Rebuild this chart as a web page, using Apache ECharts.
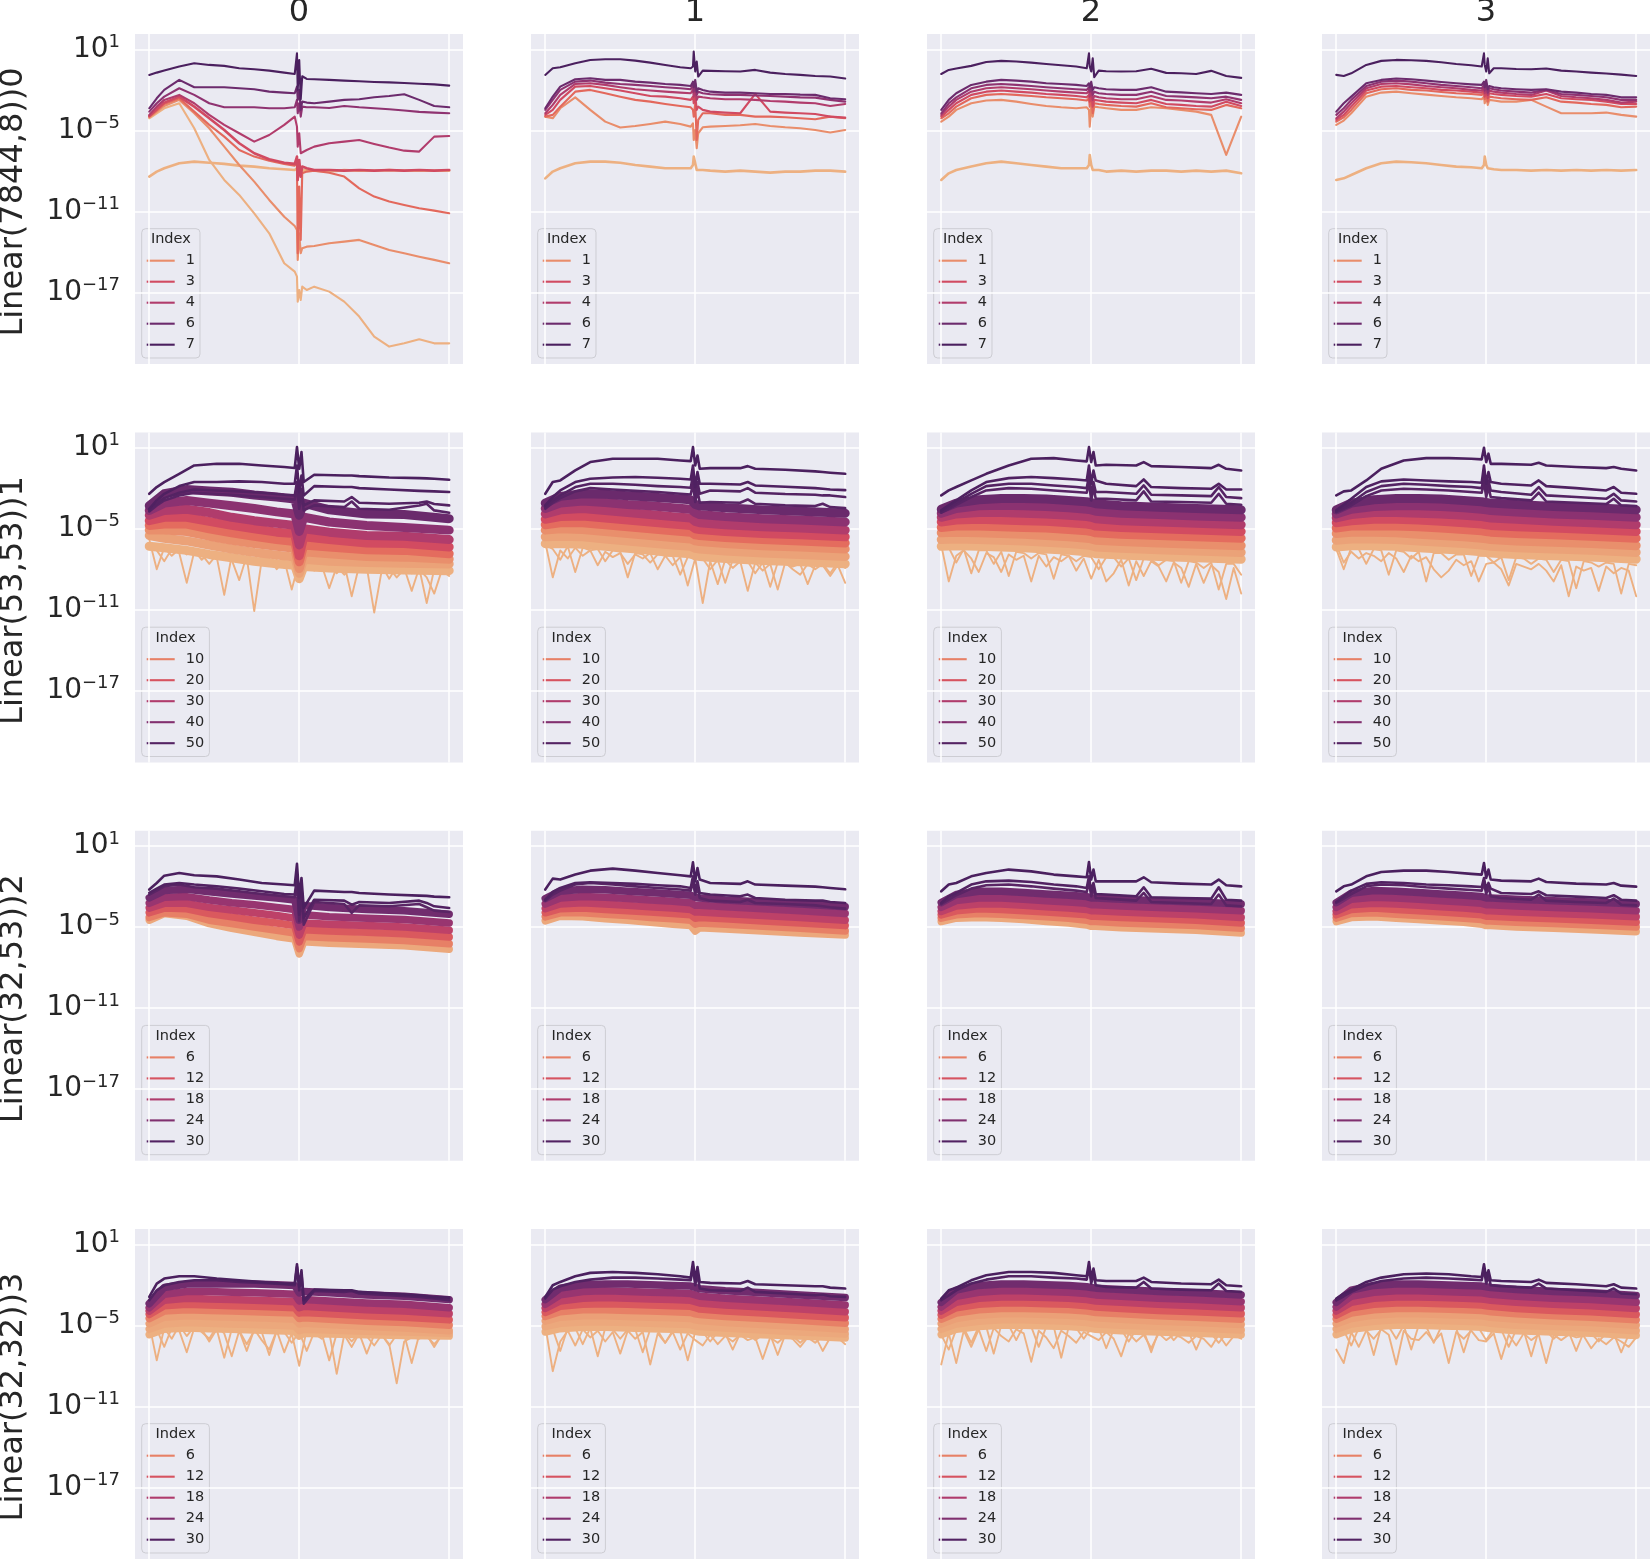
<!DOCTYPE html>
<html><head><meta charset="utf-8">
<script src="https://cdn.jsdelivr.net/npm/echarts@6/dist/echarts.min.js"></script>
<style>html,body{margin:0;padding:0;background:#fff}#c{width:1651px;height:1560px}</style>
</head><body><div id="c"></div>
<script>
// ---------- labels / ticks ----------
const colTitles = ['0','1','2','3'];
const rowLabels = ['Linear(7844,8))0','Linear(53,53))1','Linear(32,53))2','Linear(32,32))3'];
const hueMax = [7,52,31,31];
const legendTicks = [[1,3,4,6,7],[10,20,30,40,50],[6,12,18,24,30],[6,12,18,24,30]];
const yTickExp = [1,-5,-11,-17];        // log10 of the y tick values
const xGridVals = [0,1,2];

// ---------- x sampling (all y values below are log10 of the plotted quantity) ----------
const xsRow0 = [0,0.05,0.1,0.2,0.3,0.4,0.5,0.6,0.7,0.8,0.9,0.97,0.985,0.99,1.0,1.01,1.02,1.05,1.1,1.2,1.3,1.4,1.5,1.6,1.7,1.8,1.9,2.0];
const xsTop = [0,0.05,0.1,0.2,0.3,0.45,0.6,0.75,0.9,0.97,0.985,1.0,1.015,1.03,1.1,1.3,1.35,1.4,1.6,1.8,1.85,1.9,2.0];
const xsBand = [0,0.1,0.25,0.4,0.55,0.7,0.85,0.97,1.0,1.03,1.2,1.45,1.7,2.0];
const xsNoise = [0,0.05,0.1,0.15,0.2,0.25,0.3,0.35,0.4,0.45,0.5,0.55,0.6,0.65,0.7,0.75,0.8,0.85,0.9,0.95,1,1.05,1.1,1.15,1.2,1.25,1.3,1.35,1.4,1.45,1.5,1.55,1.6,1.65,1.7,1.75,1.8,1.85,1.9,1.95,2];

// ---------- row 0 : Linear(7844,8) ----------
const r0c0Hue = [0,0,1,2,3,4,5,6,7];
const r0c0 = [
 [-8.43,-8.06,-7.81,-7.44,-7.32,-7.4,-7.49,-7.62,-7.69,-7.81,-7.89,-7.94,-7.81,-8.19,-7.69,-8.31,-7.99,-7.95,-8.0,-8.05,-7.95,-8.0,-8.0,-7.95,-8.0,-8.0,-8.0,-8.0],
 [-4.11,-3.74,-3.37,-3.0,-4.85,-7.2,-8.68,-9.79,-11.15,-12.63,-14.85,-15.47,-15.84,-17.69,-16.83,-17.57,-16.58,-16.83,-16.58,-16.95,-17.69,-18.8,-20.28,-21.02,-20.78,-20.48,-20.78,-20.78],
 [-4.04,-3.62,-3.2,-2.75,-3.74,-4.85,-6.21,-7.57,-8.8,-10.16,-11.4,-12.09,-12.38,-14.6,-12.63,-14.11,-13.74,-13.62,-13.57,-13.37,-13.25,-13.12,-13.49,-13.86,-14.11,-14.36,-14.6,-14.85],
 [-3.99,-3.54,-3.05,-2.63,-3.62,-4.6,-5.47,-6.46,-6.95,-7.25,-7.49,-7.62,-7.44,-14.11,-9.17,-13.12,-8.19,-8.06,-7.99,-8.14,-8.43,-9.3,-9.91,-10.28,-10.53,-10.78,-10.95,-11.15],
 [-3.94,-3.44,-2.95,-2.51,-3.25,-4.11,-4.98,-5.96,-6.7,-7.15,-7.4,-7.49,-6.95,-8.68,-7.2,-8.43,-7.69,-7.81,-7.94,-7.94,-7.99,-7.94,-7.99,-7.94,-7.99,-7.94,-7.99,-7.94],
 [-3.86,-3.25,-2.75,-2.38,-3.0,-3.86,-4.6,-5.22,-5.84,-5.35,-4.6,-3.99,-4.73,-6.21,-5.22,-6.7,-6.58,-6.46,-6.21,-5.96,-5.84,-5.72,-6.01,-6.28,-6.51,-6.58,-5.47,-5.42],
 [-3.62,-3.0,-2.51,-1.89,-2.38,-3.0,-3.3,-3.3,-3.3,-3.37,-3.37,-3.3,-2.75,-3.74,-3.0,-3.99,-3.25,-3.3,-3.3,-3.35,-3.2,-3.3,-3.37,-3.44,-3.54,-3.64,-3.69,-3.74],
 [-3.37,-2.63,-2.01,-1.27,-1.81,-1.81,-1.81,-1.89,-1.96,-2.14,-2.21,-2.26,-1.77,-2.75,-2.01,-3.49,-2.88,-2.95,-3.0,-2.88,-2.75,-2.7,-2.56,-2.46,-2.33,-2.75,-3.2,-3.3],
 [-0.9,-0.73,-0.58,-0.28,-0.04,-0.16,-0.23,-0.41,-0.48,-0.58,-0.73,-0.83,0.7,-2.0,0.2,-2.7,-1.0,-1.2,-1.22,-1.27,-1.32,-1.37,-1.42,-1.45,-1.5,-1.55,-1.6,-1.69]
];
const r0Hue = [0,1,2,3,4,5,6,7];
const r0c1 = [
 [-8.56,-8.06,-7.81,-7.44,-7.32,-7.32,-7.4,-7.57,-7.69,-7.81,-7.81,-7.81,-7.57,-6.95,-7.44,-7.94,-7.81,-7.94,-7.99,-8.06,-7.99,-8.06,-8.14,-8.06,-8.06,-7.99,-7.99,-8.06],
 [-3.99,-4.11,-3.37,-2.56,-3.49,-4.36,-4.8,-4.68,-4.53,-4.36,-4.53,-4.73,-4.48,-5.72,-4.98,-6.33,-5.22,-4.78,-4.73,-4.68,-4.63,-4.53,-4.68,-4.78,-4.85,-4.98,-5.17,-4.98],
 [-3.99,-3.86,-3.25,-2.14,-2.01,-2.26,-2.51,-2.75,-2.88,-3.05,-3.2,-3.3,-3.49,-3.99,-3.0,-5.72,-4.23,-3.74,-3.74,-3.86,-3.86,-3.99,-3.99,-4.04,-4.11,-4.18,-3.99,-4.11],
 [-3.86,-3.49,-2.75,-1.77,-1.72,-1.89,-2.06,-2.26,-2.46,-2.51,-2.63,-2.75,-2.51,-3.0,-2.38,-3.49,-3.25,-3.49,-3.62,-3.69,-3.74,-2.3,-3.62,-3.69,-3.74,-3.79,-3.99,-4.06],
 [-3.74,-3.12,-2.38,-1.57,-1.52,-1.64,-1.81,-1.96,-2.06,-2.14,-2.21,-2.26,-2.01,-2.51,-1.89,-2.75,-2.51,-2.56,-2.63,-2.7,-2.7,-2.75,-2.83,-2.88,-2.95,-3.0,-3.2,-3.05],
 [-3.49,-2.75,-2.01,-1.4,-1.32,-1.47,-1.57,-1.64,-1.72,-1.81,-1.89,-1.96,-1.64,-2.14,-1.52,-2.38,-2.14,-2.26,-2.33,-2.38,-2.38,-2.43,-2.46,-2.51,-2.56,-2.58,-2.75,-2.88],
 [-3.37,-2.51,-1.77,-1.22,-1.15,-1.27,-1.27,-1.4,-1.47,-1.57,-1.64,-1.72,-1.4,-1.81,-1.27,-2.14,-1.89,-2.01,-2.14,-2.21,-2.21,-2.26,-2.31,-2.31,-2.36,-2.38,-2.63,-2.7],
 [-0.9,-0.41,-0.33,-0.04,0.21,0.26,0.26,0.16,0.01,-0.16,-0.33,-0.41,-0.28,0.83,-0.65,0.09,-1.02,-0.58,-0.6,-0.63,-0.65,-0.53,-0.73,-0.83,-0.9,-0.98,-1.02,-1.17]
];
const r0c2 = [
 [-8.68,-8.19,-7.94,-7.69,-7.44,-7.32,-7.44,-7.57,-7.69,-7.81,-7.81,-7.81,-7.57,-6.83,-7.57,-7.94,-7.89,-7.94,-8.06,-7.99,-8.06,-7.99,-7.99,-8.06,-7.99,-8.06,-7.99,-8.19],
 [-4.36,-3.99,-3.49,-3.0,-2.8,-2.75,-2.88,-3.05,-3.2,-3.3,-3.37,-3.3,-3.49,-4.73,-3.25,-3.99,-3.25,-3.3,-3.37,-3.49,-3.49,-3.3,-3.37,-3.49,-3.62,-3.86,-6.83,-3.99],
 [-4.11,-3.74,-3.25,-2.63,-2.38,-2.31,-2.38,-2.46,-2.56,-2.63,-2.7,-2.8,-2.63,-3.25,-2.51,-3.74,-3.0,-3.05,-3.12,-3.2,-3.25,-3.0,-3.3,-3.37,-3.44,-3.49,-3.12,-3.37],
 [-3.99,-3.49,-3.0,-2.38,-2.14,-2.06,-2.14,-2.21,-2.31,-2.38,-2.46,-2.56,-2.38,-2.88,-2.26,-3.25,-2.75,-2.8,-2.88,-2.95,-3.0,-2.75,-3.05,-3.12,-3.2,-3.25,-2.88,-3.2],
 [-3.86,-3.25,-2.75,-2.14,-1.89,-1.81,-1.89,-1.96,-2.06,-2.14,-2.21,-2.26,-2.06,-2.51,-1.96,-2.75,-2.46,-2.56,-2.63,-2.7,-2.7,-2.46,-2.75,-2.8,-2.88,-2.95,-2.7,-3.0],
 [-3.74,-3.0,-2.56,-1.89,-1.64,-1.57,-1.64,-1.72,-1.81,-1.89,-1.96,-2.01,-1.81,-2.14,-1.72,-2.38,-2.14,-2.26,-2.31,-2.38,-2.38,-2.14,-2.46,-2.51,-2.56,-2.63,-2.51,-2.75],
 [-3.49,-2.75,-2.26,-1.64,-1.4,-1.27,-1.32,-1.4,-1.52,-1.57,-1.64,-1.72,-1.52,-1.81,-1.4,-2.01,-1.81,-1.89,-1.96,-2.01,-2.01,-1.81,-2.14,-2.19,-2.26,-2.31,-2.21,-2.38],
 [-0.83,-0.53,-0.43,-0.23,0.06,0.14,0.09,0.01,-0.09,-0.19,-0.28,-0.41,0.7,-0.28,-0.65,0.33,-1.07,-0.58,-0.63,-0.65,-0.63,-0.45,-0.75,-0.78,-0.83,-0.6,-0.98,-1.12]
];
const r0c3 = [
 [-8.68,-8.56,-8.31,-7.81,-7.44,-7.32,-7.37,-7.44,-7.57,-7.69,-7.74,-7.81,-7.57,-6.95,-7.57,-7.81,-7.81,-7.89,-7.94,-7.94,-7.99,-7.94,-7.99,-7.94,-7.99,-7.94,-7.99,-7.94],
 [-4.6,-4.28,-3.74,-2.51,-2.21,-2.14,-2.26,-2.36,-2.46,-2.56,-2.63,-2.7,-2.51,-3.0,-2.46,-3.12,-2.75,-2.8,-2.88,-2.88,-2.75,-3.25,-3.74,-3.74,-3.74,-3.69,-3.86,-3.99],
 [-4.36,-4.04,-3.49,-2.26,-1.96,-1.89,-2.01,-2.06,-2.16,-2.26,-2.31,-2.38,-2.21,-2.7,-2.06,-2.88,-2.51,-2.56,-2.63,-2.7,-2.75,-2.56,-2.88,-2.95,-3.05,-3.12,-3.3,-3.25],
 [-4.23,-3.86,-3.25,-2.06,-1.77,-1.72,-1.81,-1.89,-2.01,-2.06,-2.14,-2.21,-2.01,-2.51,-1.89,-2.63,-2.26,-2.31,-2.38,-2.46,-2.51,-2.31,-2.63,-2.7,-2.75,-2.88,-3.05,-3.05],
 [-4.11,-3.62,-3.0,-1.89,-1.57,-1.52,-1.6,-1.72,-1.81,-1.89,-2.01,-2.06,-1.81,-2.26,-1.72,-2.38,-2.06,-2.14,-2.21,-2.31,-2.38,-2.06,-2.46,-2.56,-2.63,-2.75,-2.95,-2.88],
 [-3.86,-3.37,-2.75,-1.72,-1.4,-1.32,-1.4,-1.52,-1.64,-1.72,-1.81,-1.89,-1.64,-2.06,-1.52,-2.21,-1.89,-1.96,-2.06,-2.14,-2.21,-2.01,-2.31,-2.38,-2.46,-2.56,-2.75,-2.75],
 [-3.62,-3.0,-2.51,-1.52,-1.27,-1.17,-1.22,-1.32,-1.42,-1.52,-1.6,-1.64,-1.4,-1.81,-1.27,-1.96,-1.72,-1.81,-1.89,-1.96,-2.01,-1.96,-2.14,-2.21,-2.31,-2.38,-2.56,-2.56],
 [-0.9,-0.98,-0.78,-0.16,0.14,0.21,0.19,0.14,0.04,-0.09,-0.19,-0.28,0.7,-0.16,-0.65,0.33,-0.78,-0.41,-0.41,-0.46,-0.48,-0.43,-0.58,-0.65,-0.73,-0.8,-0.88,-0.98]
];

// ---------- row 1 : Linear(53,53) ----------
const r1BandHue = [0,3,7,14,22,30,38,45];
const r1TopHue = [49,50,51,52];
const r1c0Noise = [-5.8,-8.0,-6.4,-7.0,-6.5,-6.9,-6.6,-7.3,-6.8,-7.1,-9.9,-7.0,-7.4,-7.1,-11.1,-7.3,-7.7,-7.3,-7.9,-7.5,-8.7,-7.6,-8.1,-7.7,-9.4,-7.8,-8.4,-7.9,-8.2,-7.8,-11.2,-8.1,-7.9,-8.6,-8.0,-8.3,-8.0,-8.6,-9.8,-8.1,-8.5];
const r1c0Noise2 = [-6.3,-6.6,-7.4,-6.5,-6.8,-9.0,-6.7,-6.9,-7.6,-6.9,-7.0,-7.3,-8.8,-7.0,-7.4,-7.1,-7.2,-8.0,-7.3,-9.5,-7.4,-7.5,-7.9,-7.5,-7.6,-8.3,-7.6,-10.0,-7.7,-7.8,-8.2,-7.7,-8.7,-7.8,-7.9,-9.6,-7.9,-10.5,-8.0,-8.3,-8.0];
const r1c0Band = [
 [-6.3,-6.4,-6.6,-6.9,-7.15,-7.4,-7.6,-7.7,-8.7,-7.8,-7.9,-8.0,-8.05,-8.1],
 [-5.5,-5.7,-5.9,-6.2,-6.5,-6.75,-6.95,-7.1,-8.3,-7.25,-7.4,-7.5,-7.55,-7.6],
 [-5.1,-5.1,-5.2,-5.55,-5.85,-6.1,-6.3,-6.45,-7.95,-6.7,-6.85,-7.05,-7.1,-7.25],
 [-4.75,-4.65,-4.65,-5.0,-5.3,-5.55,-5.8,-5.95,-7.45,-6.2,-6.35,-6.55,-6.6,-6.85],
 [-4.4,-4.15,-4.15,-4.45,-4.75,-5.0,-5.25,-5.35,-7.0,-5.6,-5.8,-6.05,-6.1,-6.35],
 [-4.0,-3.65,-3.55,-3.8,-4.15,-4.4,-4.6,-4.75,-6.2,-5.0,-5.25,-5.5,-5.55,-5.8],
 [-3.65,-3.1,-2.9,-3.1,-3.3,-3.5,-3.75,-3.9,-5.2,-4.15,-4.5,-4.75,-4.9,-5.1],
 [-3.3,-2.4,-2.1,-2.2,-2.3,-2.5,-2.65,-2.8,-4.0,-3.1,-3.6,-3.9,-3.95,-4.25]
];
const r1c0Top = [
 [-3.72,-3.27,-2.9,-2.53,-2.33,-2.43,-2.53,-2.65,-2.78,-2.83,-1.91,-3.52,-2.53,-3.64,-3.27,-3.4,-2.98,-3.52,-3.59,-3.27,-3.15,-3.64,-3.81],
 [-3.64,-3.15,-2.73,-2.33,-2.09,-2.16,-2.23,-2.33,-2.48,-2.53,-1.54,-3.02,-2.04,-3.27,-2.9,-2.98,-2.65,-3.07,-3.15,-3.07,-2.98,-3.17,-3.27],
 [-3.52,-2.9,-2.41,-1.84,-1.54,-1.54,-1.49,-1.54,-1.67,-1.67,-0.31,-2.28,-1.05,-2.53,-1.84,-1.91,-1.91,-1.99,-2.09,-2.19,-2.21,-2.23,-2.28],
 [-2.41,-1.91,-1.54,-0.93,-0.31,-0.19,-0.19,-0.31,-0.43,-0.5,1.05,-0.56,0.68,-1.54,-1.0,-1.05,-1.05,-1.1,-1.2,-1.25,-1.27,-1.3,-1.37]
];
const r1c1Noise = [-6.0,-8.6,-6.6,-7.2,-6.4,-7.0,-6.6,-7.7,-6.7,-7.1,-6.8,-7.6,-6.9,-7.2,-6.8,-8.0,-7.0,-7.7,-7.1,-9.2,-7.2,-10.5,-7.4,-9.1,-7.3,-7.9,-7.4,-9.6,-7.5,-8.1,-7.6,-9.5,-7.5,-8.0,-8.4,-7.6,-8.0,-7.6,-8.3,-7.5,-7.9];
const r1c1Noise2 = [-6.2,-6.5,-7.3,-6.3,-8.2,-6.4,-6.6,-6.5,-7.4,-6.6,-6.7,-8.6,-6.8,-6.9,-7.5,-6.9,-7.0,-7.0,-8.4,-7.1,-7.2,-7.2,-8.0,-7.3,-9.0,-7.3,-7.4,-7.4,-8.3,-7.5,-9.3,-7.5,-7.6,-7.8,-7.6,-9.1,-7.7,-7.7,-8.5,-7.7,-9.0];
const r1c1Band = [
 [-6.1,-6.1,-6.15,-6.3,-6.45,-6.6,-6.75,-6.85,-7.0,-7.05,-7.2,-7.35,-7.45,-7.6],
 [-5.6,-5.55,-5.6,-5.75,-5.9,-6.05,-6.2,-6.3,-6.45,-6.5,-6.65,-6.8,-6.9,-7.05],
 [-5.1,-5.0,-5.05,-5.2,-5.35,-5.5,-5.65,-5.75,-5.9,-5.95,-6.1,-6.25,-6.35,-6.5],
 [-4.7,-4.55,-4.55,-4.7,-4.85,-5.0,-5.15,-5.25,-5.45,-5.5,-5.65,-5.8,-5.9,-6.05],
 [-4.3,-4.1,-4.05,-4.2,-4.35,-4.5,-4.65,-4.75,-5.0,-5.05,-5.2,-5.35,-5.45,-5.6],
 [-3.9,-3.6,-3.5,-3.65,-3.8,-3.95,-4.1,-4.2,-4.45,-4.55,-4.7,-4.85,-4.95,-5.1],
 [-3.5,-3.1,-2.95,-3.05,-3.2,-3.3,-3.45,-3.55,-3.8,-3.95,-4.1,-4.25,-4.35,-4.5],
 [-3.1,-2.6,-2.4,-2.45,-2.55,-2.65,-2.75,-2.85,-3.2,-3.3,-3.45,-3.6,-3.7,-3.85]
];
const r1c1Top = [
 [-3.52,-3.07,-2.73,-2.23,-1.99,-2.09,-2.19,-2.28,-2.41,-2.46,-1.67,-3.02,-2.16,-3.07,-3.02,-3.07,-2.83,-3.15,-3.27,-3.32,-3.15,-3.4,-3.47],
 [-3.4,-2.9,-2.53,-1.91,-1.67,-1.67,-1.74,-1.84,-1.91,-1.96,-1.05,-2.53,-1.54,-2.41,-2.16,-2.23,-1.99,-2.33,-2.43,-2.48,-2.53,-2.53,-2.65],
 [-3.27,-2.65,-2.16,-1.54,-1.3,-1.2,-1.17,-1.22,-1.3,-1.35,-0.31,-1.91,-0.8,-1.67,-1.67,-1.72,-1.54,-1.79,-1.89,-1.99,-2.04,-2.09,-2.14],
 [-2.41,-1.54,-1.42,-0.68,-0.06,0.19,0.19,0.19,0.06,0.01,1.05,-0.31,0.43,-0.56,-0.51,-0.51,-0.36,-0.56,-0.63,-0.75,-0.8,-0.85,-0.93]
];
const r1c2Noise = [-6.2,-8.9,-7.0,-6.6,-7.2,-8.2,-6.8,-7.1,-8.2,-6.9,-7.3,-7.0,-8.9,-7.0,-7.8,-7.1,-7.4,-7.0,-8.1,-7.2,-8.7,-7.3,-8.9,-8.3,-7.3,-9.2,-7.4,-8.5,-7.4,-7.8,-8.9,-7.5,-7.9,-9.3,-7.6,-9.0,-7.7,-8.2,-10.2,-7.9,-9.8];
const r1c2Noise2 = [-6.5,-6.4,-7.5,-6.5,-8.3,-6.6,-6.6,-7.6,-6.7,-8.5,-6.7,-6.8,-7.2,-6.8,-6.9,-8.7,-6.9,-7.0,-7.4,-7.0,-7.1,-8.0,-7.1,-7.1,-7.8,-7.2,-8.8,-7.2,-7.3,-7.7,-7.3,-7.4,-9.0,-7.4,-7.5,-7.9,-7.5,-9.5,-7.6,-7.6,-8.4];
const r1c2Band = [
 [-6.3,-6.25,-6.3,-6.35,-6.4,-6.5,-6.6,-6.7,-6.75,-6.85,-6.95,-7.05,-7.15,-7.25],
 [-5.8,-5.75,-5.8,-5.85,-5.9,-6.0,-6.1,-6.2,-6.25,-6.35,-6.45,-6.55,-6.65,-6.75],
 [-5.3,-5.25,-5.3,-5.35,-5.4,-5.5,-5.6,-5.7,-5.75,-5.85,-5.95,-6.05,-6.15,-6.25],
 [-4.9,-4.8,-4.8,-4.85,-4.9,-4.95,-5.05,-5.15,-5.2,-5.3,-5.4,-5.5,-5.6,-5.7],
 [-4.5,-4.35,-4.3,-4.35,-4.4,-4.45,-4.55,-4.65,-4.7,-4.8,-4.9,-5.0,-5.1,-5.2],
 [-4.15,-3.9,-3.8,-3.8,-3.85,-3.9,-4.0,-4.1,-4.15,-4.25,-4.4,-4.5,-4.6,-4.7],
 [-3.85,-3.5,-3.3,-3.25,-3.3,-3.35,-3.45,-3.55,-3.6,-3.7,-3.85,-3.95,-4.05,-4.15],
 [-3.55,-3.1,-2.85,-2.75,-2.75,-2.8,-2.9,-3.0,-3.05,-3.15,-3.3,-3.4,-3.5,-3.6]
];
const r1c2Top = [
 [-3.81,-3.52,-3.22,-2.65,-2.16,-1.99,-2.04,-2.16,-2.28,-2.33,-1.54,-2.9,-1.91,-2.78,-2.78,-2.9,-2.23,-2.98,-3.02,-3.07,-2.41,-3.15,-3.22],
 [-3.77,-3.4,-3.07,-2.41,-1.84,-1.67,-1.67,-1.79,-1.91,-1.99,-1.05,-2.53,-1.54,-2.28,-2.28,-2.41,-1.79,-2.48,-2.53,-2.58,-1.91,-2.65,-2.73],
 [-3.64,-3.27,-2.9,-2.16,-1.54,-1.25,-1.17,-1.25,-1.35,-1.42,-0.31,-1.67,-0.68,-1.42,-1.67,-1.84,-1.35,-1.91,-1.99,-2.04,-1.67,-2.09,-2.09],
 [-2.53,-2.16,-1.91,-1.42,-0.93,-0.31,0.19,0.23,0.06,-0.01,1.05,-0.06,0.68,-0.31,-0.26,-0.31,-0.06,-0.36,-0.43,-0.51,-0.26,-0.56,-0.68]
];
const r1c3Noise = [-6.2,-7.5,-6.7,-7.2,-6.8,-7.0,-7.4,-6.8,-7.2,-8.2,-7.0,-7.4,-7.1,-8.0,-8.6,-8.1,-7.3,-7.7,-7.4,-8.9,-7.6,-7.5,-8.0,-9.2,-7.6,-7.8,-8.0,-7.6,-8.1,-8.9,-7.7,-10.0,-7.8,-8.1,-7.9,-9.6,-7.8,-8.3,-7.9,-8.1,-10.0];
const r1c3Noise2 = [-6.5,-8.0,-6.4,-6.5,-7.6,-6.5,-6.6,-8.4,-6.6,-6.7,-7.2,-6.7,-8.9,-6.8,-6.8,-7.3,-6.9,-6.9,-8.5,-7.0,-7.0,-7.5,-7.1,-8.8,-7.1,-7.2,-7.6,-7.2,-7.3,-8.2,-7.3,-7.4,-9.4,-7.4,-7.5,-7.8,-7.5,-7.6,-9.8,-7.6,-7.7];
const r1c3Band = [
 [-6.35,-6.25,-6.25,-6.3,-6.4,-6.5,-6.6,-6.7,-6.75,-6.8,-6.9,-7.0,-7.1,-7.25],
 [-5.85,-5.75,-5.75,-5.8,-5.9,-6.0,-6.1,-6.2,-6.25,-6.3,-6.4,-6.5,-6.6,-6.75],
 [-5.35,-5.25,-5.25,-5.3,-5.4,-5.5,-5.6,-5.7,-5.75,-5.8,-5.9,-6.0,-6.1,-6.25],
 [-4.95,-4.8,-4.8,-4.8,-4.85,-4.95,-5.05,-5.15,-5.2,-5.25,-5.35,-5.45,-5.55,-5.7],
 [-4.55,-4.4,-4.3,-4.3,-4.35,-4.45,-4.55,-4.65,-4.7,-4.75,-4.85,-4.95,-5.05,-5.2],
 [-4.2,-3.95,-3.8,-3.8,-3.85,-3.9,-4.0,-4.1,-4.15,-4.2,-4.3,-4.45,-4.55,-4.7],
 [-3.9,-3.55,-3.35,-3.3,-3.3,-3.35,-3.45,-3.55,-3.6,-3.65,-3.75,-3.9,-4.0,-4.15],
 [-3.6,-3.1,-2.85,-2.75,-2.75,-2.8,-2.9,-3.0,-3.05,-3.1,-3.2,-3.35,-3.45,-3.6]
];
const r1c3Top = [
 [-3.77,-3.52,-3.27,-2.58,-2.16,-2.04,-2.09,-2.16,-2.28,-2.33,-1.54,-2.65,-1.91,-2.65,-2.73,-2.9,-2.33,-2.98,-3.07,-3.17,-2.78,-3.27,-3.32],
 [-3.72,-3.4,-3.07,-2.28,-1.84,-1.67,-1.74,-1.84,-1.91,-1.99,-1.05,-2.16,-1.42,-2.16,-2.28,-2.48,-1.91,-2.53,-2.65,-2.78,-2.41,-2.9,-2.98],
 [-3.64,-3.22,-2.78,-1.91,-1.49,-1.35,-1.42,-1.49,-1.54,-1.59,-0.31,-1.67,-0.8,-1.54,-1.67,-1.79,-1.42,-1.84,-1.99,-2.16,-1.91,-2.33,-2.41],
 [-2.53,-2.23,-2.16,-1.42,-0.56,0.06,0.23,0.23,0.19,0.14,1.0,-0.06,0.56,-0.19,-0.19,-0.26,-0.11,-0.31,-0.43,-0.51,-0.43,-0.56,-0.68]
];

// ---------- row 2 : Linear(32,53) ----------
const r2BandHue = [1,6,11,16,21,26];
const r2TopHue = [29,30,31];
const r2c0Band = [
 [-4.5,-4.0,-4.2,-4.75,-5.1,-5.4,-5.7,-5.9,-7.0,-6.1,-6.2,-6.3,-6.4,-6.65],
 [-4.3,-3.95,-4.05,-4.5,-4.75,-5.0,-5.25,-5.45,-6.6,-5.7,-5.8,-5.9,-6.0,-6.25],
 [-3.95,-3.6,-3.65,-4.0,-4.25,-4.5,-4.7,-4.9,-6.1,-5.2,-5.3,-5.4,-5.5,-5.75],
 [-3.6,-3.25,-3.25,-3.55,-3.75,-3.95,-4.15,-4.35,-5.6,-4.7,-4.8,-4.9,-5.0,-5.25],
 [-3.25,-2.8,-2.75,-3.0,-3.2,-3.35,-3.55,-3.7,-5.0,-4.1,-4.25,-4.35,-4.45,-4.7],
 [-2.85,-2.3,-2.2,-2.4,-2.55,-2.7,-2.85,-3.0,-4.5,-3.4,-3.55,-3.7,-3.8,-4.05]
];
const r2c0Top = [
 [-2.6,-2.31,-1.99,-1.86,-2.06,-2.16,-2.36,-2.56,-2.73,-2.8,-1.86,-4.58,-2.6,-4.83,-3.15,-3.3,-3.96,-3.4,-3.47,-3.3,-3.54,-3.79,-3.89],
 [-2.48,-2.16,-1.86,-1.74,-1.86,-1.99,-2.16,-2.36,-2.56,-2.6,-1.37,-4.09,-2.11,-4.33,-2.98,-3.05,-3.35,-3.15,-3.22,-3.05,-3.22,-3.47,-3.59],
 [-2.23,-1.74,-1.2,-1.0,-1.17,-1.25,-1.49,-1.74,-1.86,-1.91,-0.33,-2.85,-1.37,-3.59,-2.31,-2.41,-2.41,-2.48,-2.6,-2.68,-2.7,-2.75,-2.8]
];
const r2c1Band = [
 [-4.55,-4.2,-4.25,-4.4,-4.5,-4.65,-4.8,-4.9,-5.3,-5.05,-5.15,-5.3,-5.45,-5.6],
 [-4.25,-3.95,-3.95,-4.05,-4.15,-4.3,-4.4,-4.5,-4.8,-4.7,-4.8,-4.95,-5.1,-5.3],
 [-3.95,-3.65,-3.6,-3.7,-3.8,-3.9,-4.0,-4.1,-4.35,-4.3,-4.4,-4.55,-4.7,-4.9],
 [-3.65,-3.3,-3.2,-3.3,-3.4,-3.5,-3.6,-3.7,-3.9,-3.9,-4.0,-4.15,-4.3,-4.5],
 [-3.3,-2.85,-2.75,-2.8,-2.9,-3.0,-3.1,-3.2,-3.4,-3.4,-3.5,-3.65,-3.8,-4.0],
 [-2.9,-2.35,-2.2,-2.25,-2.35,-2.45,-2.55,-2.65,-2.8,-2.85,-3.0,-3.15,-3.3,-3.5]
];
const r2c1Top = [
 [-3.05,-2.6,-2.31,-1.86,-1.74,-1.86,-1.99,-2.11,-2.23,-2.31,-1.62,-2.6,-1.99,-2.85,-3.05,-3.15,-2.98,-3.22,-3.3,-3.4,-3.47,-3.54,-3.64],
 [-2.98,-2.41,-2.11,-1.74,-1.69,-1.74,-1.81,-1.91,-1.99,-2.11,-1.25,-2.36,-1.62,-2.48,-2.6,-2.73,-2.6,-2.85,-2.98,-3.05,-3.05,-3.15,-3.22],
 [-2.23,-1.42,-1.49,-1.12,-0.83,-0.68,-0.83,-1.0,-1.17,-1.25,-0.21,-1.62,-0.63,-1.49,-1.74,-1.81,-1.62,-1.86,-1.94,-2.01,-2.06,-2.11,-2.21]
];
const r2c2Band = [
 [-4.6,-4.35,-4.3,-4.35,-4.45,-4.6,-4.7,-4.85,-4.95,-4.95,-5.05,-5.15,-5.25,-5.45],
 [-4.35,-4.1,-4.0,-4.05,-4.15,-4.25,-4.35,-4.5,-4.6,-4.6,-4.7,-4.8,-4.9,-5.1],
 [-4.1,-3.8,-3.65,-3.7,-3.8,-3.9,-4.0,-4.1,-4.2,-4.2,-4.3,-4.4,-4.5,-4.7],
 [-3.85,-3.45,-3.3,-3.3,-3.4,-3.5,-3.6,-3.7,-3.8,-3.8,-3.9,-4.0,-4.1,-4.3],
 [-3.55,-3.05,-2.85,-2.85,-2.95,-3.05,-3.15,-3.25,-3.35,-3.35,-3.45,-3.55,-3.65,-3.8],
 [-3.2,-2.6,-2.35,-2.35,-2.45,-2.55,-2.65,-2.75,-2.85,-2.85,-2.95,-3.05,-3.15,-3.3]
];
const r2c2Top = [
 [-3.3,-2.98,-2.65,-2.16,-1.91,-1.86,-1.99,-2.16,-2.31,-2.41,-1.62,-2.73,-2.11,-2.85,-2.9,-3.05,-2.48,-3.15,-3.22,-3.3,-2.6,-3.4,-3.47],
 [-3.22,-2.73,-2.48,-1.86,-1.62,-1.57,-1.67,-1.86,-1.99,-2.11,-1.25,-2.36,-1.74,-2.56,-2.6,-2.73,-2.06,-2.8,-2.85,-2.9,-2.06,-2.98,-3.05],
 [-2.36,-1.86,-1.74,-1.25,-1.0,-0.75,-0.88,-1.12,-1.25,-1.32,-0.19,-1.49,-0.75,-1.62,-1.62,-1.62,-1.32,-1.69,-1.79,-1.86,-1.49,-1.91,-1.99]
];
const r2c3Band = [
 [-4.6,-4.3,-4.25,-4.35,-4.45,-4.55,-4.65,-4.8,-4.9,-4.9,-5.0,-5.1,-5.2,-5.35],
 [-4.35,-4.0,-3.95,-4.05,-4.15,-4.25,-4.35,-4.45,-4.55,-4.55,-4.65,-4.75,-4.85,-5.0],
 [-4.1,-3.7,-3.6,-3.7,-3.8,-3.9,-4.0,-4.1,-4.2,-4.2,-4.3,-4.4,-4.5,-4.65],
 [-3.85,-3.35,-3.25,-3.3,-3.4,-3.5,-3.6,-3.7,-3.8,-3.8,-3.9,-4.0,-4.1,-4.25],
 [-3.55,-2.95,-2.8,-2.85,-2.95,-3.05,-3.15,-3.25,-3.35,-3.35,-3.45,-3.55,-3.65,-3.8],
 [-3.2,-2.5,-2.3,-2.35,-2.45,-2.55,-2.65,-2.75,-2.85,-2.85,-2.95,-3.05,-3.15,-3.3]
];
const r2c3Top = [
 [-3.22,-2.9,-2.56,-1.99,-1.86,-1.91,-2.06,-2.16,-2.26,-2.31,-1.74,-2.56,-1.99,-2.73,-2.85,-2.98,-2.6,-3.05,-3.15,-3.22,-2.9,-3.35,-3.4],
 [-3.15,-2.73,-2.31,-1.81,-1.69,-1.74,-1.86,-1.91,-1.99,-2.04,-1.37,-2.23,-1.74,-2.16,-2.48,-2.56,-2.36,-2.65,-2.75,-2.85,-2.65,-2.98,-3.05],
 [-2.36,-1.99,-1.86,-1.25,-0.93,-0.83,-0.83,-0.93,-1.07,-1.12,-0.26,-1.37,-0.75,-1.49,-1.57,-1.62,-1.42,-1.67,-1.79,-1.86,-1.74,-1.94,-2.01]
];

// ---------- row 3 : Linear(32,32) ----------
const r3BandHue = [0,1,2,6,11,16,21,26];
const r3TopHue = [30,31];
const r3c0Noise = [-4.9,-7.6,-5.2,-6.0,-5.0,-5.8,-5.1,-5.5,-6.0,-5.1,-5.6,-7.3,-5.4,-6.9,-5.3,-6.1,-6.8,-5.4,-7.0,-5.6,-8.0,-5.3,-5.6,-6.0,-5.5,-8.6,-5.7,-6.6,-5.6,-5.8,-6.5,-5.7,-6.4,-9.3,-6.2,-5.9,-6.0,-5.7,-6.6,-5.7,-5.7];
const r3c0Noise2 = [-5.6,-5.3,-6.6,-5.2,-5.4,-7.0,-5.2,-5.3,-6.2,-5.3,-7.4,-5.3,-5.4,-6.4,-5.4,-5.5,-7.2,-5.4,-5.5,-6.3,-5.5,-6.9,-5.5,-5.6,-7.6,-5.6,-5.6,-6.2,-5.6,-7.1,-5.7,-5.7,-6.5,-5.7,-5.7,-7.8,-5.7,-5.8,-6.4,-5.8,-5.8];
const r3c0Band = [
 [-5.7,-5.3,-5.2,-5.25,-5.3,-5.35,-5.4,-5.45,-5.8,-5.6,-5.65,-5.7,-5.75,-5.8],
 [-5.3,-4.9,-4.8,-4.85,-4.9,-4.95,-5.0,-5.05,-5.4,-5.3,-5.35,-5.45,-5.5,-5.6],
 [-4.9,-4.4,-4.3,-4.35,-4.4,-4.45,-4.5,-4.55,-4.9,-4.85,-4.95,-5.1,-5.2,-5.4],
 [-4.5,-3.95,-3.85,-3.9,-3.95,-4.0,-4.05,-4.1,-4.5,-4.45,-4.55,-4.7,-4.8,-5.0],
 [-4.2,-3.55,-3.45,-3.5,-3.55,-3.6,-3.65,-3.7,-4.1,-4.05,-4.15,-4.3,-4.4,-4.6],
 [-3.95,-3.15,-3.0,-3.05,-3.1,-3.15,-3.2,-3.25,-3.7,-3.6,-3.7,-3.85,-3.95,-4.15],
 [-3.7,-2.7,-2.5,-2.5,-2.55,-2.6,-2.65,-2.7,-3.2,-3.1,-3.2,-3.35,-3.45,-3.7],
 [-3.4,-2.2,-1.95,-1.95,-1.95,-1.95,-2.0,-2.05,-2.6,-2.5,-2.6,-2.75,-2.85,-3.1]
];
const r3c0Top = [
 [-3.15,-2.41,-2.04,-1.79,-1.67,-1.67,-1.79,-1.86,-1.96,-2.04,-0.68,-2.41,-1.17,-3.4,-2.46,-2.53,-2.46,-2.65,-2.78,-2.9,-2.95,-3.02,-3.15],
 [-2.9,-1.91,-1.54,-1.37,-1.37,-1.54,-1.67,-1.79,-1.91,-1.91,-0.48,-2.16,-0.93,-3.15,-2.36,-2.41,-2.41,-2.53,-2.65,-2.78,-2.83,-2.9,-2.95]
];
const r3c1Noise = [-5.0,-8.4,-6.2,-5.4,-6.5,-5.3,-5.9,-5.4,-6.2,-5.5,-7.1,-5.4,-6.0,-5.5,-7.9,-5.6,-6.3,-5.5,-6.8,-5.6,-6.1,-6.5,-5.7,-6.4,-5.8,-6.2,-5.7,-6.1,-5.9,-7.5,-5.9,-6.3,-5.8,-6.0,-6.6,-5.9,-6.3,-5.8,-6.0,-5.6,-5.9];
const r3c1Noise2 = [-5.5,-5.3,-6.9,-5.2,-5.2,-6.4,-5.2,-7.3,-5.2,-5.3,-6.0,-5.3,-5.3,-7.0,-5.3,-5.4,-6.3,-5.4,-5.4,-7.6,-5.5,-5.5,-6.2,-5.5,-5.6,-6.8,-5.6,-5.6,-6.1,-5.7,-5.7,-7.2,-5.7,-5.8,-6.3,-5.8,-5.8,-6.9,-5.9,-5.9,-6.4];
const r3c1Band = [
 [-5.5,-5.25,-5.15,-5.15,-5.2,-5.25,-5.3,-5.35,-5.45,-5.5,-5.6,-5.7,-5.8,-5.95],
 [-5.1,-4.85,-4.75,-4.75,-4.8,-4.85,-4.9,-4.95,-5.05,-5.1,-5.2,-5.35,-5.5,-5.65],
 [-4.7,-4.4,-4.3,-4.3,-4.35,-4.4,-4.45,-4.5,-4.6,-4.65,-4.8,-4.95,-5.1,-5.3],
 [-4.35,-4.0,-3.85,-3.85,-3.9,-3.95,-4.0,-4.05,-4.15,-4.2,-4.35,-4.5,-4.65,-4.85],
 [-4.05,-3.6,-3.45,-3.4,-3.45,-3.5,-3.55,-3.6,-3.7,-3.8,-3.95,-4.1,-4.25,-4.45],
 [-3.75,-3.2,-3.0,-2.95,-3.0,-3.05,-3.1,-3.15,-3.25,-3.35,-3.5,-3.65,-3.8,-4.0],
 [-3.45,-2.75,-2.5,-2.45,-2.5,-2.55,-2.6,-2.65,-2.75,-2.85,-3.0,-3.15,-3.3,-3.5],
 [-3.1,-2.25,-2.0,-1.95,-1.95,-2.0,-2.05,-2.1,-2.2,-2.3,-2.45,-2.6,-2.75,-2.95]
];
const r3c1Top = [
 [-3.02,-2.36,-2.11,-1.79,-1.62,-1.47,-1.47,-1.54,-1.62,-1.67,-0.68,-2.04,-1.17,-2.28,-2.41,-2.46,-2.21,-2.53,-2.65,-2.78,-2.72,-2.85,-2.9],
 [-2.9,-2.04,-1.79,-1.37,-1.12,-1.05,-1.12,-1.22,-1.37,-1.47,-0.31,-1.67,-0.68,-1.79,-1.86,-1.91,-1.72,-1.96,-2.04,-2.11,-2.11,-2.21,-2.28]
];
const r3c2Noise = [-7.9,-5.6,-7.8,-5.4,-6.6,-5.3,-6.9,-5.2,-5.8,-6.2,-5.3,-5.6,-7.7,-5.4,-5.9,-6.7,-5.4,-5.8,-6.3,-5.5,-5.8,-6.1,-5.5,-6.0,-7.3,-5.6,-6.2,-5.7,-6.7,-5.6,-6.1,-5.7,-5.9,-6.3,-5.8,-6.0,-6.6,-5.7,-6.5,-5.8,-5.5];
const r3c2Noise2 = [-5.7,-6.8,-5.3,-5.2,-6.3,-5.1,-5.1,-7.1,-5.0,-5.0,-6.1,-5.0,-5.1,-6.6,-5.1,-5.1,-7.4,-5.1,-5.2,-6.0,-5.2,-5.2,-6.7,-5.3,-5.3,-6.2,-5.3,-5.4,-7.0,-5.4,-5.4,-6.1,-5.5,-5.5,-6.8,-5.5,-5.6,-6.3,-5.6,-5.7,-6.0];
const r3c2Band = [
 [-5.7,-5.3,-5.1,-5.0,-5.0,-5.05,-5.1,-5.2,-5.25,-5.3,-5.4,-5.5,-5.6,-5.7],
 [-5.3,-4.9,-4.7,-4.6,-4.6,-4.65,-4.7,-4.8,-4.85,-4.9,-5.0,-5.1,-5.2,-5.35],
 [-4.9,-4.5,-4.25,-4.15,-4.15,-4.2,-4.25,-4.35,-4.4,-4.45,-4.55,-4.7,-4.8,-4.95],
 [-4.55,-4.1,-3.85,-3.75,-3.75,-3.8,-3.85,-3.95,-4.0,-4.05,-4.15,-4.3,-4.4,-4.55],
 [-4.25,-3.7,-3.45,-3.35,-3.35,-3.4,-3.45,-3.55,-3.6,-3.65,-3.75,-3.9,-4.0,-4.15],
 [-3.95,-3.3,-3.0,-2.9,-2.9,-2.95,-3.0,-3.1,-3.15,-3.2,-3.3,-3.45,-3.55,-3.7],
 [-3.65,-2.85,-2.55,-2.45,-2.45,-2.5,-2.55,-2.65,-2.7,-2.75,-2.85,-3.0,-3.1,-3.25],
 [-3.3,-2.4,-2.05,-1.95,-1.95,-2.0,-2.05,-2.15,-2.2,-2.25,-2.35,-2.5,-2.6,-2.75]
];
const r3c2Top = [
 [-3.15,-2.78,-2.41,-1.91,-1.62,-1.37,-1.37,-1.47,-1.54,-1.62,-0.68,-1.91,-1.17,-2.04,-2.16,-2.21,-1.79,-2.28,-2.36,-2.41,-1.91,-2.46,-2.53],
 [-3.02,-2.41,-2.21,-1.67,-1.3,-1.05,-1.05,-1.12,-1.3,-1.37,-0.31,-1.54,-0.8,-1.67,-1.72,-1.72,-1.47,-1.79,-1.91,-1.96,-1.62,-2.04,-2.11]
];
const r3c3Noise = [-6.8,-7.8,-5.5,-6.6,-5.4,-6.0,-5.3,-5.7,-7.9,-5.4,-6.0,-6.1,-5.5,-6.2,-5.6,-7.8,-5.5,-6.0,-5.4,-6.1,-6.2,-5.6,-7.5,-5.7,-6.5,-5.6,-6.1,-5.7,-7.8,-5.7,-6.1,-5.7,-5.9,-5.8,-6.7,-6.0,-6.4,-5.9,-6.2,-6.6,-5.9];
const r3c3Noise2 = [-5.7,-5.4,-6.5,-5.2,-5.2,-7.2,-5.1,-5.1,-6.0,-5.0,-6.8,-5.0,-5.1,-6.3,-5.1,-5.1,-5.2,-7.0,-5.2,-5.2,-6.1,-5.3,-5.3,-6.6,-5.3,-5.4,-7.3,-5.4,-5.4,-6.0,-5.5,-5.5,-6.9,-5.5,-5.6,-6.2,-5.6,-5.6,-7.0,-5.7,-5.8];
const r3c3Band = [
 [-5.7,-5.3,-5.1,-5.0,-5.0,-5.05,-5.1,-5.15,-5.2,-5.25,-5.4,-5.5,-5.6,-5.75],
 [-5.3,-4.9,-4.7,-4.6,-4.6,-4.65,-4.7,-4.75,-4.8,-4.85,-5.0,-5.1,-5.2,-5.4],
 [-4.9,-4.5,-4.25,-4.15,-4.15,-4.2,-4.25,-4.3,-4.35,-4.4,-4.55,-4.7,-4.8,-5.0],
 [-4.55,-4.1,-3.85,-3.75,-3.75,-3.8,-3.85,-3.9,-3.95,-4.0,-4.15,-4.3,-4.4,-4.6],
 [-4.25,-3.7,-3.45,-3.35,-3.35,-3.4,-3.45,-3.5,-3.55,-3.6,-3.75,-3.9,-4.0,-4.2],
 [-3.95,-3.3,-3.0,-2.9,-2.9,-2.95,-3.0,-3.05,-3.1,-3.15,-3.3,-3.45,-3.55,-3.75],
 [-3.65,-2.85,-2.55,-2.45,-2.45,-2.5,-2.55,-2.6,-2.65,-2.7,-2.85,-3.0,-3.1,-3.3],
 [-3.3,-2.4,-2.05,-1.95,-1.95,-2.0,-2.05,-2.1,-2.15,-2.2,-2.35,-2.5,-2.6,-2.8]
];
const r3c3Top = [
 [-3.15,-2.85,-2.53,-2.04,-1.72,-1.54,-1.47,-1.54,-1.62,-1.67,-0.8,-1.91,-1.3,-2.04,-2.11,-2.21,-1.91,-2.28,-2.41,-2.53,-2.28,-2.65,-2.7],
 [-3.02,-2.65,-2.36,-1.79,-1.47,-1.22,-1.17,-1.22,-1.37,-1.42,-0.48,-1.54,-0.93,-1.67,-1.72,-1.79,-1.62,-1.86,-1.96,-2.11,-1.96,-2.21,-2.28]
];

// ---------- layout / style ----------
const PANEL_LEFT = [135, 531, 927, 1322];
const PANEL_TOP = [34, 432.5, 830.7, 1229];
const PW = 328, PH = 330;
const X_MIN = -0.095, X_MAX = 2.092, Y_MIN = -22.31, Y_MAX = 2.13;
const FONT = 'DejaVu Sans';
const TXT = '#262626';
const FLARE = [[237,176,129],[233,141,107],[227,104,92],[209,74,97],[177,60,108],[143,51,113],[108,43,109],[75,32,95]];
function flare(t){
  t = Math.max(0, Math.min(1, t));
  const p = t * 7, i = Math.min(6, Math.floor(p)), f = p - i;
  const a = FLARE[i], b = FLARE[i+1];
  return 'rgb(' + a.map((v,k)=>Math.round(v + (b[k]-v)*f)).join(',') + ')';
}

const grids=[], xAxes=[], yAxes=[], series=[], graphics=[];
function addLine(g, xs, vals, hue, hmax, width){
  series.push({
    type:'line', xAxisIndex:g, yAxisIndex:g,
    data: xs.map((x,i)=>[x, vals[i]]),
    showSymbol:false, symbol:'none', silent:true, animation:false,
    lineStyle:{color:flare(hue/hmax), width:width, join:'round', cap:'round'},
    emphasis:{disabled:true}, z:2
  });
}
function supText(v){ return v < 0 ? '\u2212' + (-v) : String(v); }

const denseRows = {
  1: {noise:[[r1c0Noise,r1c0Noise2],[r1c1Noise,r1c1Noise2],[r1c2Noise,r1c2Noise2],[r1c3Noise,r1c3Noise2]],
      band:[r1c0Band,r1c1Band,r1c2Band,r1c3Band], top:[r1c0Top,r1c1Top,r1c2Top,r1c3Top], bandHue:r1BandHue, topHue:r1TopHue, bandW:9},
  2: {noise:null, band:[r2c0Band,r2c1Band,r2c2Band,r2c3Band], top:[r2c0Top,r2c1Top,r2c2Top,r2c3Top], bandHue:r2BandHue, topHue:r2TopHue, bandW:7.5},
  3: {noise:[[r3c0Noise,r3c0Noise2],[r3c1Noise,r3c1Noise2],[r3c2Noise,r3c2Noise2],[r3c3Noise,r3c3Noise2]],
      band:[r3c0Band,r3c1Band,r3c2Band,r3c3Band], top:[r3c0Top,r3c1Top,r3c2Top,r3c3Top], bandHue:r3BandHue, topHue:r3TopHue, bandW:7.5}
};
const row0 = [r0c0, r0c1, r0c2, r0c3];

for (let r=0; r<4; r++){
  for (let c=0; c<4; c++){
    const g = r*4 + c;
    grids.push({left:PANEL_LEFT[c], top:PANEL_TOP[r], width:PW, height:PH, show:true, backgroundColor:'#EAEAF2', borderWidth:0});
    xAxes.push({type:'value', gridIndex:g, min:X_MIN, max:X_MAX,
      axisLine:{show:false}, axisTick:{show:false, customValues:xGridVals}, axisLabel:{show:false, customValues:xGridVals},
      splitLine:{show:true, lineStyle:{color:'#ffffff', width:1.5}}});
    yAxes.push({type:'value', gridIndex:g, min:Y_MIN, max:Y_MAX,
      axisLine:{show:false}, axisTick:{show:false, customValues:yTickExp},
      axisLabel:{show:c===0, customValues:yTickExp, margin:15,
        formatter:(v)=>'{b|10}{s|' + supText(Math.round(v)) + '}',
        rich:{b:{fontSize:28, fontFamily:FONT, color:TXT, lineHeight:32},
              s:{fontSize:18, fontFamily:FONT, color:TXT, lineHeight:20, verticalAlign:'top'}}},
      splitLine:{show:true, lineStyle:{color:'#ffffff', width:1.5}}});

    if (r === 0){
      const lines = row0[c], hues = c===0 ? r0c0Hue : r0Hue;
      lines.forEach((vals,i)=>{
        const noisy = (hues[i]===0 && vals[0] < -8) || (c===0 && i===4);
        addLine(g, xsRow0, vals, hues[i], hueMax[0], noisy ? 2.6 : 2.1);
      });
    } else {
      const d = denseRows[r];
      if (d.noise) d.noise[c].forEach(vals=>addLine(g, xsNoise, vals, 0, hueMax[r], 1.9));
      d.band[c].forEach((vals,i)=>addLine(g, xsBand, vals, d.bandHue[i], hueMax[r], d.bandW));
      d.top[c].forEach((vals,i)=>addLine(g, xsTop, vals, d.topHue[i], hueMax[r], 2.6));
    }

    // legend box (drawn as graphics)
    const w = r===0 ? 58.3 : 67.7, h = 129.3;
    const children = [
      {type:'rect', shape:{x:0, y:0, width:w, height:h, r:4}, style:{fill:'#EAEAF2', stroke:'#CDCDD3', lineWidth:1}},
      {type:'text', x:w/2, y:11, style:{text:'Index', font:'14.5px "DejaVu Sans"', fill:TXT, align:'center', verticalAlign:'middle', textAlign:'center', textVerticalAlign:'middle'}}
    ];
    legendTicks[r].forEach((v,j)=>{
      const yy = 32 + 21*j;
      children.push({type:'line', shape:{x1:5, y1:yy, x2:33, y2:yy}, style:{stroke:flare(v/hueMax[r]), lineWidth:2.1}});
      children.push({type:'text', x:44, y:yy, style:{text:String(v), font:'14.5px "DejaVu Sans"', fill:TXT, align:'left', verticalAlign:'middle', textAlign:'left', textVerticalAlign:'middle'}});
    });
    graphics.push({type:'group', x:PANEL_LEFT[c]+6.7, y:PANEL_TOP[r]+PH-6-h, z:100, silent:true, children});
  }
}
colTitles.forEach((t,c)=>graphics.push({type:'text', x:PANEL_LEFT[c]+PW/2, y:13, silent:true,
  style:{text:t, font:'32px "DejaVu Sans"', fill:TXT, align:'center', verticalAlign:'middle', textAlign:'center', textVerticalAlign:'middle'}}));
rowLabels.forEach((t,r)=>graphics.push({type:'text', x:14, y:PANEL_TOP[r]+PH/2+3, rotation:Math.PI/2, silent:true,
  style:{text:t, font:'32px "DejaVu Sans"', fill:TXT, align:'center', verticalAlign:'middle', textAlign:'center', textVerticalAlign:'middle'}}));

const chart = echarts.init(document.getElementById('c'), null, {width:1651, height:1560});
chart.setOption({
  animation:false,
  backgroundColor:'#ffffff',
  grid:grids, xAxis:xAxes, yAxis:yAxes, series:series,
  graphic:{elements:graphics}
});
</script></body></html>
